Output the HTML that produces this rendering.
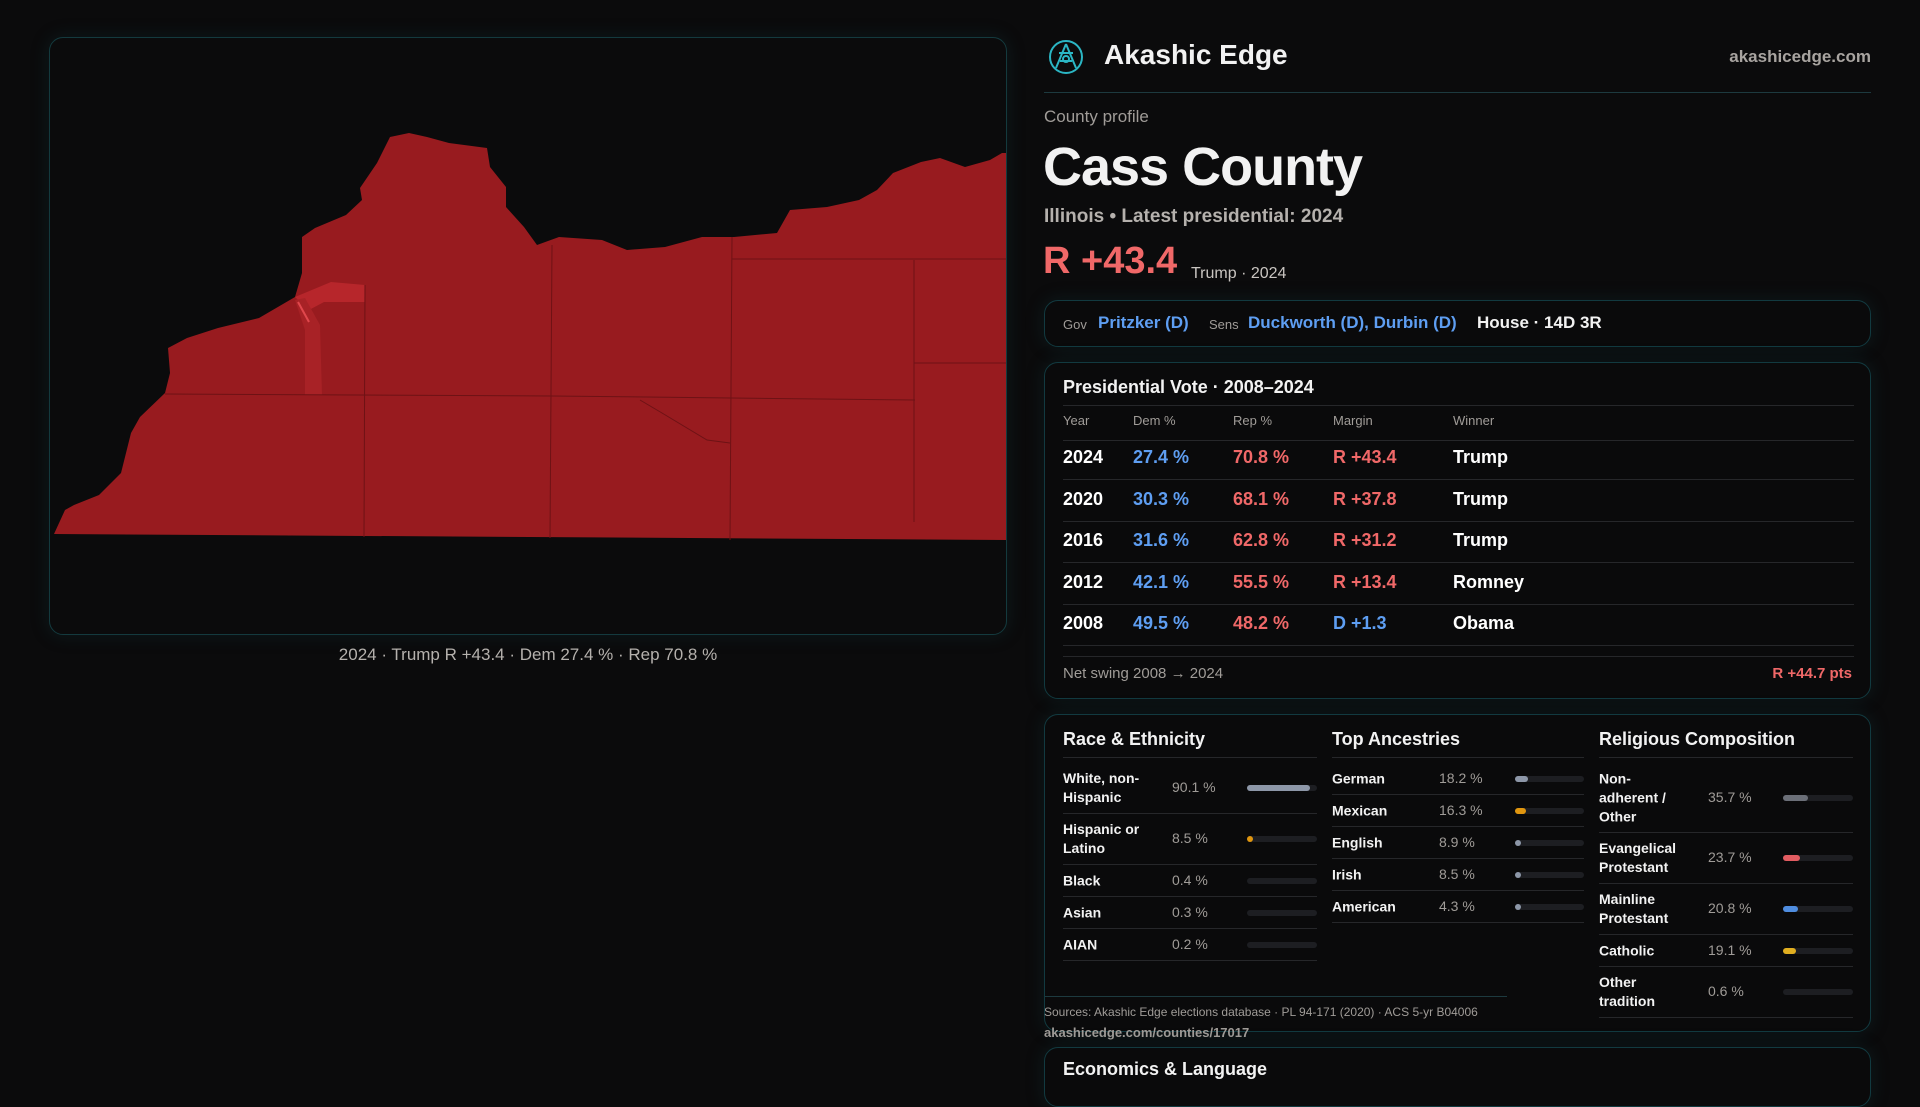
<!DOCTYPE html>
<html><head><meta charset="utf-8">
<style>
*{box-sizing:border-box;margin:0;padding:0}
body{width:1920px;height:1080px;background:#0b0b0c;font-family:"Liberation Sans",sans-serif;color:#f2f2f2;position:relative;overflow:hidden}
.abs{position:absolute;white-space:nowrap}
.box{position:absolute;border:1px solid #123a40;border-radius:14px;background:#0a0a0b;box-shadow:0 0 18px rgba(20,70,80,0.25)}
.muted{color:#a09c98}
.blue{color:#5e9ef2}
.red{color:#f06868}
.hl{position:absolute;height:1px;background:#26272a}
.bar{position:absolute;height:6px;border-radius:3px;background:#1d1e22}
.bar i{position:absolute;left:0;top:0;height:6px;border-radius:3px}
</style></head><body>

<div class="box" style="left:49px;top:37px;width:958px;height:598px;border-color:#143a3e;background:#0b0b0c;overflow:hidden">
<svg width="958" height="598" viewBox="49 37 958 598" style="position:absolute;left:-1px;top:-1px">
<polygon fill="#981b1f" points="54,534 65,510 74,505 99,495 121,473 131,433 140,417 165,393 170,373 168,348 187,338 218,328 259,318 295,297 302,273 302,237 315,228 346,215 362,200 360,188 377,163 390,137 409,133 427,137 449,143 487,148 490,167 506,187 506,207 524,227 537,245 559,237 602,240 627,250 665,247 702,237 734,237 777,233 790,210 827,207 859,200 877,190 893,173 921,162 940,158 965,167 990,160 1002,153 1006,153 1006,540"/>
<polygon fill="#b7262b" points="295,297 331,282 365,285 365,302 324,302 309,310"/>
<polygon fill="#a82226" points="295,300 305,298 320,325 322,395 305,395 305,330"/>
<line x1="298" y1="302" x2="309" y2="322" stroke="#e0474c" stroke-width="2"/>
<g stroke="#6e1215" stroke-width="1" fill="none">
<polyline points="165,394 552,396 915,400"/>
<line x1="365" y1="285" x2="364" y2="537"/>
<line x1="552" y1="245" x2="550" y2="538"/>
<line x1="732" y1="237" x2="730" y2="540"/>
<line x1="914" y1="260" x2="914" y2="522"/>
<line x1="732" y1="259" x2="1006" y2="259"/>
<line x1="914" y1="363" x2="1006" y2="363"/>
<polyline points="640,400 662,413 707,440 730,443"/>
</g>
</svg>
</div>
<div class="abs muted" style="left:0;width:1056px;text-align:center;top:645px;font-size:17px;color:#b5b1ad">2024 · Trump R +43.4 · Dem 27.4 % · Rep 70.8 %</div>

<svg class="abs" style="left:1048px;top:39px" width="36" height="36" viewBox="0 0 36 36">
<circle cx="18" cy="18" r="16" fill="none" stroke="#2bb6c4" stroke-width="2"/>
<path d="M18 5 L8 29 M18 5 L28 29 M11 14 L25 14 M12 22 L24 22" stroke="#2bb6c4" stroke-width="2" fill="none"/>
<circle cx="18" cy="20" r="3" fill="none" stroke="#2bb6c4" stroke-width="2"/>
</svg>
<div class="abs" style="left:1104px;top:39px;font-size:28px;font-weight:bold">Akashic Edge</div>
<div class="abs muted" style="right:49px;top:47px;font-size:17px;font-weight:bold;color:#a8a4a0">akashicedge.com</div>
<div class="hl" style="left:1044px;top:92px;width:827px;background:#1d3a3f"></div>

<div class="abs muted" style="left:1044px;top:107px;font-size:17px">County profile</div>
<div class="abs" style="left:1043px;top:136px;font-size:54px;font-weight:bold;letter-spacing:-1px">Cass County</div>
<div class="abs" style="left:1044px;top:206px;font-size:19px;font-weight:bold;color:#b5b1ad">Illinois • Latest presidential: 2024</div>
<div class="abs red" style="left:1043px;top:240px;font-size:38px;font-weight:bold">R +43.4</div>
<div class="abs" style="left:1191px;top:265px;font-size:16px;color:#c9c5c1">Trump · 2024</div>

<div class="box" style="left:1044px;top:300px;width:827px;height:47px">
<span class="abs muted" style="left:18px;top:16px;font-size:13px">Gov</span>
<span class="abs blue" style="left:53px;top:12px;font-size:17px;font-weight:bold">Pritzker (D)</span>
<span class="abs muted" style="left:164px;top:16px;font-size:13px">Sens</span>
<span class="abs blue" style="left:203px;top:12px;font-size:17px;font-weight:bold">Duckworth (D), Durbin (D)</span>
<span class="abs" style="left:432px;top:12px;font-size:17px;font-weight:bold">House · 14D 3R</span>
</div>

<div class="box" style="left:1044px;top:362px;width:827px;height:337px">
<div class="abs" style="left:18px;top:14px;font-size:18px;font-weight:bold">Presidential Vote · 2008–2024</div>
<div class="hl" style="left:18px;top:42px;width:791px"></div>
<div id="thead"></div>
<div id="tbody"></div>
<div class="hl" style="left:18px;top:293px;width:791px"></div>
<div class="abs muted" style="left:18px;top:302px;font-size:15px">Net swing 2008 → 2024</div>
<div class="abs red" style="right:18px;top:302px;font-size:15px;font-weight:bold">R +44.7 pts</div>
</div>

<div class="box" style="left:1044px;top:714px;width:827px;height:318px">
<div id="demo"></div>
<div class="hl" style="left:0;top:281px;width:462px;background:#1d3a3f"></div>
</div>
<div class="abs muted" style="left:1044px;top:1005px;font-size:12px">Sources: Akashic Edge elections database · PL 94-171 (2020) · ACS 5-yr B04006</div>
<div class="abs muted" style="left:1044px;top:1025px;font-size:13px;font-weight:bold">akashicedge.com/counties/17017</div>

<div class="box" style="left:1044px;top:1047px;width:827px;height:60px">
<div class="abs" style="left:18px;top:11px;font-size:18px;font-weight:bold">Economics &amp; Language</div>
</div>

<script>
const years=['2024','2020','2016','2012','2008'];
const demPct=[27.4,30.3,31.6,42.1,49.5];
const repPct=[70.8,68.1,62.8,55.5,48.2];
const winners=['Trump','Trump','Trump','Romney','Obama'];

const raceLabels=['White, non-<br>Hispanic','Hispanic or<br>Latino','Black','Asian','AIAN'];
const raceValues=[90.1,8.5,0.4,0.3,0.2];
const ancLabels=['German','Mexican','English','Irish','American'];
const ancValues=[18.2,16.3,8.9,8.5,4.3];
const relLabels=['Non-<br>adherent /<br>Other','Evangelical<br>Protestant','Mainline<br>Protestant','Catholic','Other<br>tradition'];
const relValues=[35.7,23.7,20.8,19.1,0.6];

const colX=[18,88,188,288,408];
const thead=document.getElementById('thead');
['Year','Dem %','Rep %','Margin','Winner'].forEach((h,i)=>{
  const d=document.createElement('div');d.className='abs muted';
  d.style.cssText=`left:${colX[i]}px;top:50px;font-size:13px`;d.textContent=h;thead.appendChild(d);
});
const hl=document.createElement('div');hl.className='hl';hl.style.cssText='left:18px;top:77px;width:791px';thead.appendChild(hl);
const tbody=document.getElementById('tbody');
years.forEach((y,r)=>{
  const top=84+r*41.5;
  const row=document.createElement('div');
  
  
  const m=repPct[r]-demPct[r];
  const mt=m>=0?'R +'+m.toFixed(1):'D +'+(-m).toFixed(1);
  const cells=[[y,'#fff'],[demPct[r].toFixed(1)+' %','#5e9ef2'],[repPct[r].toFixed(1)+' %','#f06868'],[mt,m>=0?'#f06868':'#5e9ef2'],[winners[r],'#fff']];
  cells.forEach((c,i)=>{
    const d=document.createElement('div');d.className='abs';
    d.style.cssText=`left:${colX[i]}px;top:${top}px;font-size:18px;font-weight:bold;color:${c[1]}`;
    d.textContent=c[0];row.appendChild(d);
  });
  const l=document.createElement('div');l.className='hl';l.style.cssText=`left:18px;top:${top+32}px;width:791px`;row.appendChild(l);
  tbody.appendChild(row);
});

const demo=document.getElementById('demo');
function section(title,x,labels,values,colors,rowH,valX,barX,barW,name){
  const t=document.createElement('div');t.className='abs';
  t.style.cssText=`left:${x}px;top:14px;font-size:18px;font-weight:bold`;t.textContent=title;
  
  
  demo.appendChild(t);
  const l0=document.createElement('div');l0.className='hl';l0.style.cssText=`left:${x}px;top:42px;width:${barX+barW-x}px`;demo.appendChild(l0);
  let y=48;
  labels.forEach((lab,i)=>{
    const h=rowH[i];
    const row=document.createElement('div');
    
    
    const a=document.createElement('div');a.className='abs';
    a.style.cssText=`left:${x}px;top:${y+h/2}px;transform:translateY(-50%);font-size:14px;font-weight:bold;line-height:19px;white-space:normal`;
    a.innerHTML=lab;row.appendChild(a);
    const v=document.createElement('div');v.className='abs muted';
    v.style.cssText=`left:${valX}px;top:${y+h/2-9}px;font-size:14px`;v.textContent=values[i].toFixed(1)+' %';row.appendChild(v);
    const b=document.createElement('div');b.className='bar';
    b.style.cssText=`left:${barX}px;top:${y+h/2-3}px;width:${barW}px`;
    const f=document.createElement('i');
    f.style.width=(values[i]>=1?Math.max(6,barW*values[i]/100):0)+'px';
    f.style.background=colors[i];b.appendChild(f);row.appendChild(b);
    const l=document.createElement('div');l.className='hl';l.style.cssText=`left:${x}px;top:${y+h}px;width:${barX+barW-x}px`;row.appendChild(l);
    demo.appendChild(row);
    y+=h+1;
  });
}
section('Race & Ethnicity',18,raceLabels,raceValues,['#8d97a8','#e0960f','#555','#555','#555'],[50,50,31,31,31],127,202,70,'race');
section('Top Ancestries',287,ancLabels,ancValues,['#8d97a8','#e0960f','#8d97a8','#8d97a8','#8d97a8'],[31,31,31,31,31],394,470,69,'ancestry');
section('Religious Composition',554,relLabels,relValues,['#6b6f78','#e25c61','#4f8de0','#e0ae20','#555'],[69,50,50,31,50],663,738,70,'religion');
</script>
</body></html>
